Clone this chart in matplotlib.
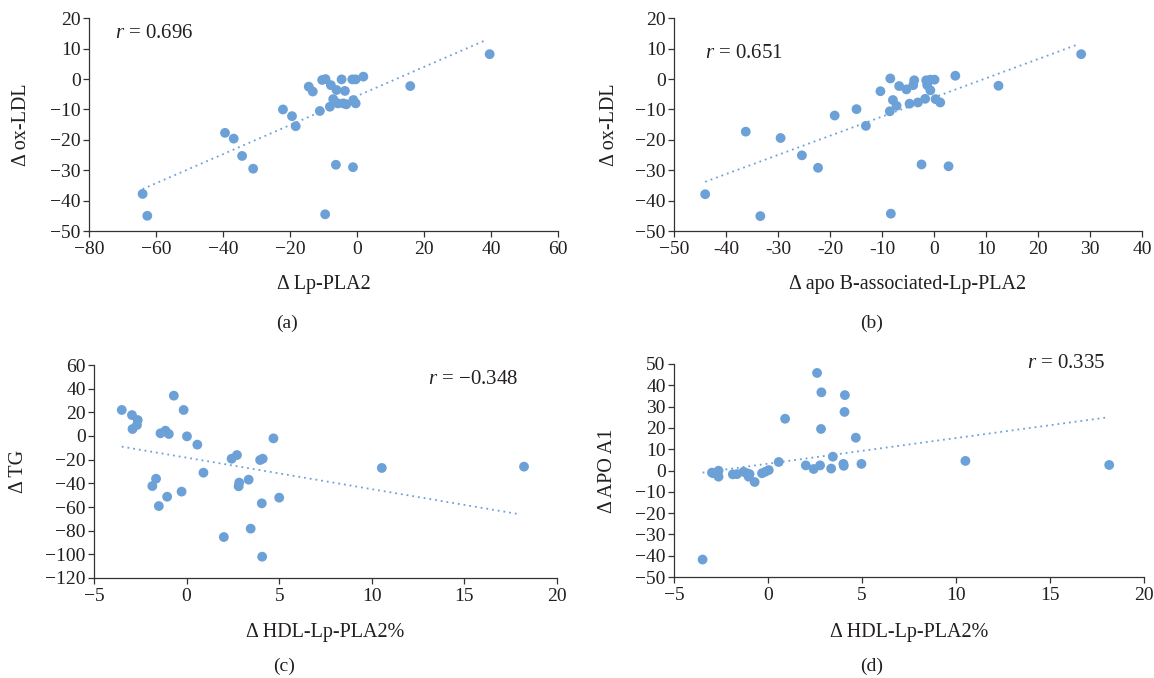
import numpy as np
import matplotlib
matplotlib.use("Agg")
import matplotlib.pyplot as plt

plt.rcParams['font.family'] = ['Liberation Serif', 'DejaVu Serif']
plt.rcParams['mathtext.fontset'] = 'custom'
plt.rcParams['mathtext.rm'] = 'Liberation Serif'
plt.rcParams['mathtext.it'] = 'Liberation Serif:italic'

# (a) delta Lp-PLA2 vs delta ox-LDL
a_x = [39.6, 15.9, 1.9, -0.4, -1.4, -4.6, -3.6, -6.1, -7.8, -9.4, -10.4, -14.4, -13.2,
       -7.1, -8.1, -5.7, -4.1, -3.2, -1.1, -0.4, -11.1, -22.1, -19.4, -18.3, -39.4,
       -36.8, -34.3, -31.0, -6.3, -1.2, -64.0, -62.6, -9.5]
a_y = [8.2, -2.3, 0.8, -0.1, -0.1, -0.1, -3.9, -3.6, -2.0, 0.0, -0.3, -2.5, -4.1,
       -6.6, -9.1, -8.0, -8.0, -8.3, -6.9, -8.0, -10.5, -10.0, -12.2, -15.5, -17.7,
       -19.6, -25.3, -29.5, -28.2, -29.0, -37.8, -45.0, -44.5]
a_trend_x = [-64.0, 38.6]
a_trend_y = [-36.2, 12.9]

# (b) delta apo B-associated-Lp-PLA2 vs delta ox-LDL
b_x = [28.3, 12.4, 4.1, -8.4, -6.7, -5.3, -3.8, -4.0, -1.5, -0.7, 0.1, -1.3, -0.7,
       -10.3, -7.9, -7.2, -8.5, -4.7, -3.1, -1.7, 0.3, 1.2, -14.9, -19.1, -13.1,
       -36.2, -29.5, -25.4, -22.3, -2.4, 2.8, -44.0, -33.4, -8.3]
b_y = [8.2, -2.2, 1.1, 0.2, -2.3, -3.4, -0.4, -2.0, -0.4, -0.2, -0.2, -2.0, -3.7,
       -4.0, -6.9, -8.8, -10.6, -8.1, -7.7, -6.5, -6.6, -7.7, -9.9, -12.0, -15.4,
       -17.3, -19.4, -25.1, -29.2, -28.1, -28.7, -37.9, -45.1, -44.3]
b_trend_x = [-44.0, 27.5]
b_trend_y = [-33.8, 11.3]

# (c) delta HDL-Lp-PLA2% vs delta TG
c_x = [-3.50, -2.95, -2.64, -2.68, -2.92, -0.69, -0.16, -1.41, -1.14, -0.96, 0.02,
       0.58, 4.69, 2.43, 2.72, 3.97, 4.11, 10.54, 18.22, 0.91, -1.65, -1.85, -1.05,
       -1.50, -0.27, 2.84, 2.81, 3.35, 4.06, 5.00, 3.46, 2.01, 4.08]
c_y = [22.0, 17.7, 13.5, 9.3, 5.9, 34.1, 22.0, 2.3, 4.5, 1.7, -0.3,
       -7.3, -2.0, -19.2, -16.1, -20.3, -19.2, -27.0, -25.9, -31.0, -36.1, -42.3, -51.3,
       -59.2, -47.0, -39.4, -42.5, -36.9, -56.9, -52.1, -78.3, -85.4, -102.0]
c_trend_x = [-3.5, 18.0]
c_trend_y = [-9.0, -66.2]

# (d) delta HDL-Lp-PLA2% vs delta APO A1
d_x = [2.61, 2.84, 4.09, 4.07, 0.91, 2.82, 4.67, 3.45, 0.57, 2.01, 2.43, 2.77, 3.36,
       4.01, 4.03, 4.97, 10.5, 18.15, -3.48, -2.98, -2.63, -2.63, -1.87, -1.65, -1.30,
       -1.12, -0.98, -1.03, -0.71, -0.32, -0.14, 0.04, -2.90]
d_y = [45.8, 36.7, 35.4, 27.5, 24.3, 19.5, 15.4, 6.5, 4.0, 2.4, 0.7, 2.4, 0.9,
       3.1, 2.2, 3.1, 4.5, 2.6, -41.8, -1.0, -0.1, -2.9, -1.8, -1.7, -0.6,
       -1.3, -1.7, -2.9, -5.4, -1.3, -0.6, 0.2, -1.3]
d_trend_x = [-3.48, 18.1]
d_trend_y = [-1.0, 25.0]

W, H = 1154, 678
fig = plt.figure(figsize=(W / 100, H / 100), dpi=100)

blue = '#6ca1d8'
ink = '#231f20'


def px_axes(left, top, right, bottom):
    return fig.add_axes([left / W, 1 - bottom / H, (right - left) / W, (bottom - top) / H])


panels = [
    dict(box=(89, 18.3, 558, 231), x=a_x, y=a_y, tx=a_trend_x, ty=a_trend_y,
         xlim=(-80, 60), xt=np.arange(-80, 61, 20), ylim=(-50, 20), yt=np.arange(-50, 21, 10),
         xlabel='Δ Lp-PLA2', ylabel='Δ ox-LDL', ylx=22, xly=285,
         r='$r$ = 0.696', rpos=(115, 33), rha='left', tag='(a)', tagpos=(287, 323)),
    dict(box=(674, 18.3, 1142, 231), x=b_x, y=b_y, tx=b_trend_x, ty=b_trend_y,
         xlim=(-50, 40), xt=np.arange(-50, 41, 10), ylim=(-50, 20), yt=np.arange(-50, 21, 10),
         xlabel='Δ apo B-associated-Lp-PLA2', ylabel='Δ ox-LDL', ylx=609, xly=285,
         r='$r$ = 0.651', rpos=(705, 53), rha='left', tag='(b)', tagpos=(872, 323),
         xtl=['−50', '-40', '-30', '-20', '-10', '0', '10', '20', '30', '40']),
    dict(box=(94, 365, 557, 578), x=c_x, y=c_y, tx=c_trend_x, ty=c_trend_y,
         xlim=(-5, 20), xt=np.arange(-5, 21, 5), ylim=(-120, 60), yt=np.arange(-120, 61, 20),
         xlabel='Δ HDL-Lp-PLA2%', ylabel='Δ TG', ylx=18, xly=633,
         r='$r$ = −0.348', rpos=(518, 380), rha='right', tag='(c)', tagpos=(284, 666)),
    dict(box=(674, 364, 1144, 577), x=d_x, y=d_y, tx=d_trend_x, ty=d_trend_y,
         xlim=(-5, 20), xt=np.arange(-5, 21, 5), ylim=(-50, 50), yt=np.arange(-50, 51, 10),
         xlabel='Δ HDL-Lp-PLA2%', ylabel='Δ APO A1', ylx=607, xly=633,
         r='$r$ = 0.335', rpos=(1106, 363), rha='right', tag='(d)', tagpos=(872, 666)),
]

for p in panels:
    left, top, right, bottom = p['box']
    ax = px_axes(left, top, right, bottom)
    ax.scatter(p['x'], p['y'], s=50, color=blue, edgecolors='none', zorder=3)
    ax.plot(p['tx'], p['ty'], color=blue, lw=1.3, ls=(0, (1, 2.2)), zorder=2)
    ax.set_xlim(*p['xlim'])
    ax.set_ylim(*p['ylim'])
    ax.set_xticks(p['xt'])
    ax.set_yticks(p['yt'])
    if 'xtl' in p:
        ax.set_xticklabels(p['xtl'])
    for s in ['top', 'right']:
        ax.spines[s].set_visible(False)
    for s in ['left', 'bottom']:
        ax.spines[s].set_color('#333333')
        ax.spines[s].set_linewidth(0.9)
    ax.tick_params(axis='both', direction='out', length=4.5, width=0.9, color='#333333',
                   labelsize=14, labelcolor=ink)
    ax.tick_params(axis='y', pad=1.5)
    ax.tick_params(axis='x', pad=2.5)

    w = right - left
    h = bottom - top
    ax.set_xlabel(p['xlabel'], fontsize=14.5, color=ink)
    ax.xaxis.set_label_coords(0.5, (bottom - p['xly']) / h)
    ax.xaxis.label.set_verticalalignment('center')
    ax.set_ylabel(p['ylabel'], fontsize=14.5, color=ink)
    ax.yaxis.set_label_coords((p['ylx'] - left) / w, 0.5)
    ax.yaxis.label.set_verticalalignment('center')

    rx, ry = p['rpos']
    ax.text((rx - left) / w, (bottom - ry) / h, p['r'], transform=ax.transAxes,
            ha=p['rha'], va='center', fontsize=15, color=ink)

    tx, ty = p['tagpos']
    fig.text(tx / W, 1 - ty / H, p['tag'], ha='center', va='center', fontsize=14, color=ink)

fig.savefig('out.png', dpi=100)
